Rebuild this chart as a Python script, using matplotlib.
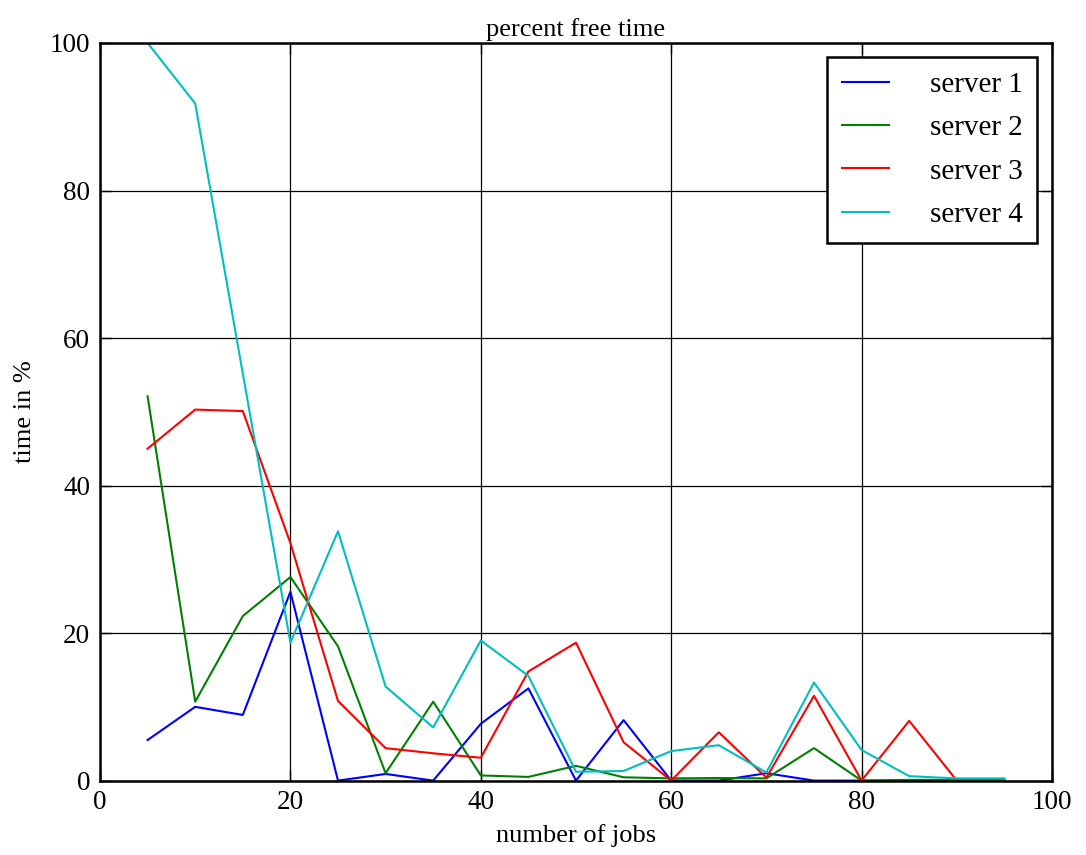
import matplotlib
matplotlib.use("Agg")
import matplotlib.pyplot as plt

# number of jobs
jobs = [5, 10, 15, 20, 25, 30, 35, 40, 45, 50, 55, 60, 65, 70, 75, 80, 85, 90, 95]

# percent free time per server
server1 = [5.5, 10.0, 8.9, 25.6, 0.0, 0.9, 0.0, 7.7, 12.5, 0.0, 8.2, 0.0, 0.0, 1.0, 0.0, 0.0, 0.0, 0.0, 0.0]
server2 = [52.1, 10.7, 22.3, 27.6, 18.2, 1.0, 10.7, 0.7, 0.5, 2.0, 0.45, 0.3, 0.35, 0.3, 4.4, 0.0, 0.1, 0.1, 0.1]
server3 = [45.0, 50.3, 50.1, 32.2, 10.8, 4.4, 3.7, 3.1, 14.8, 18.7, 5.2, 0.0, 6.55, 0.4, 11.5, 0.0, 8.1, 0.0]
server4 = [100.0, 91.8, 55.2, 18.7, 33.8, 12.75, 7.2, 19.0, 14.2, 1.2, 1.3, 4.0, 4.8, 1.1, 13.3, 4.15, 0.6, 0.3, 0.3]

labels = ["server 1", "server 2", "server 3", "server 4"]
colores = ["#0000ff", "#008000", "#ff0000", "#00bfbf"]

plt.rcParams['font.family'] = ['Liberation Serif', 'DejaVu Serif']

fig = plt.figure(figsize=(10.86, 8.55), dpi=100)
ax = fig.add_axes([100/1086, 1 - 780.6/855, 952/1086, 737.6/855])

series = [server1, server2, server3, server4]
for vals, lab, col in zip(series, labels, colores):
    ax.plot(jobs[:len(vals)], vals, color=col, lw=1.5, label=lab)

ax.set_xlim(0, 100)
ax.set_ylim(0, 100)
ax.set_xticks(range(0, 101, 20))
ax.set_yticks(range(0, 101, 20))
ax.grid(True, color='black', lw=0.9, linestyle='-')
ax.tick_params(direction='in', length=8, width=1, top=True, right=True,
               labelsize=19.5, pad=7)
for sp in ax.spines.values():
    sp.set_linewidth(1.8)

ax.set_title('percent free time', fontsize=19, pad=5)
ax.set_xlabel('number of jobs', fontsize=19, labelpad=6)
ax.set_ylabel('time in %', fontsize=19, labelpad=10)

leg = ax.legend(loc='upper right', bbox_to_anchor=(1037/1086, 1 - 57/855),
                bbox_transform=fig.transFigure, borderaxespad=0,
                fontsize=21, handlelength=1.6, handletextpad=1.4,
                labelspacing=0.58, borderpad=0.5, fancybox=False,
                framealpha=1)
leg.get_frame().set_edgecolor('black')
leg.get_frame().set_linewidth(1.8)

fig.savefig('out.png', dpi=100)
